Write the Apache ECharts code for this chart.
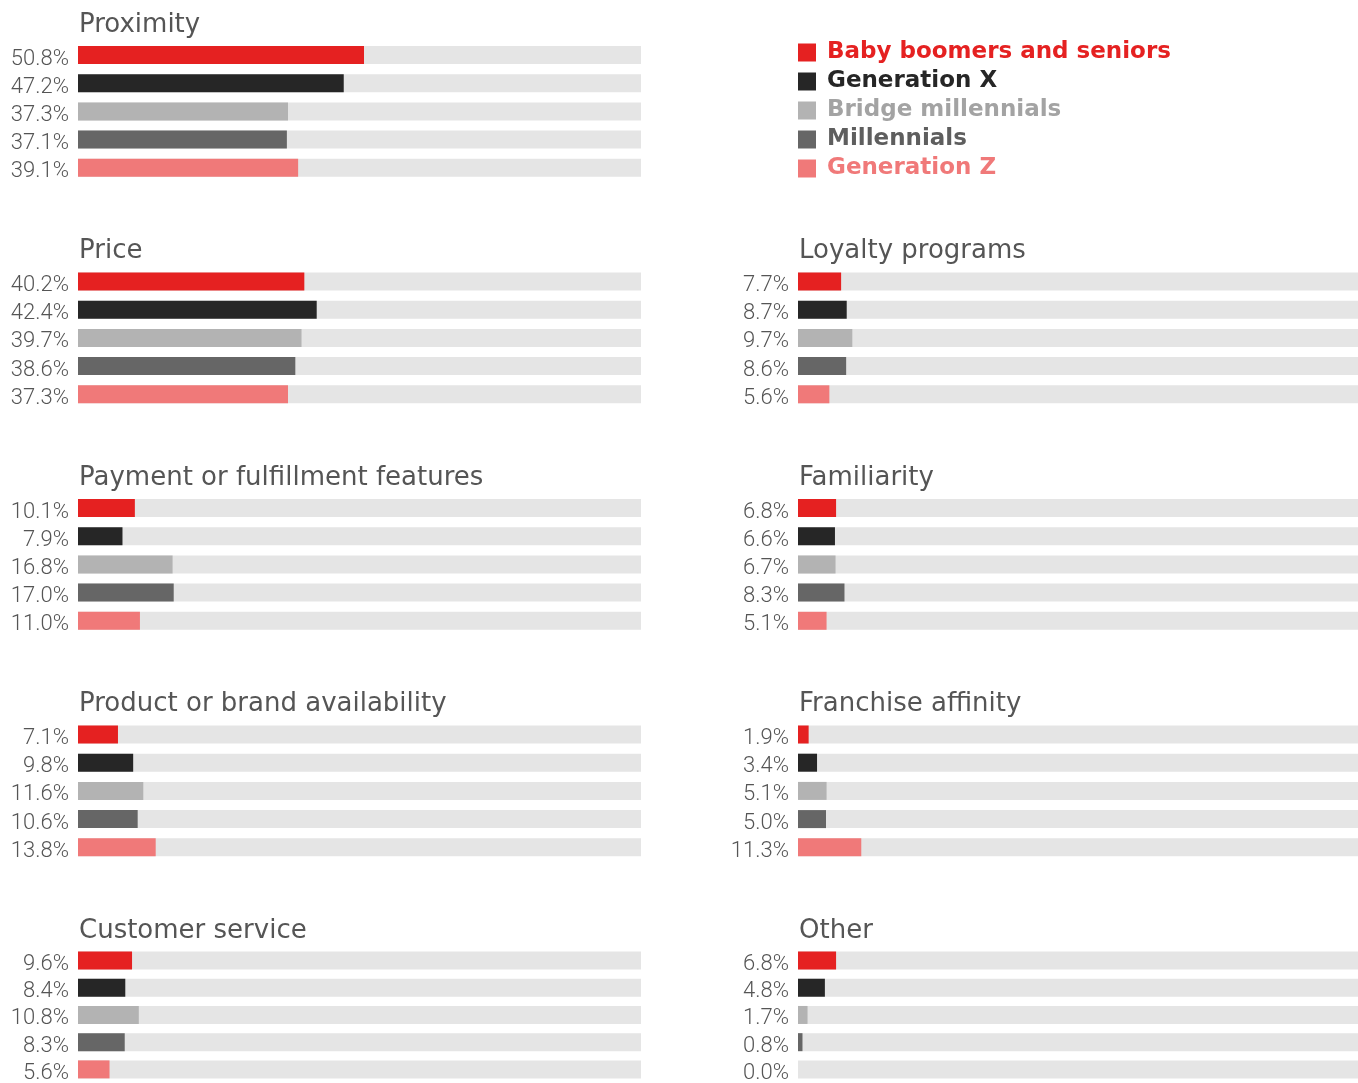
<!DOCTYPE html>
<html>
<head>
<meta charset="utf-8">
<style>
html, body {
  margin: 0;
  padding: 0;
  background-color: #FFF;
}
#chart {
  width: 1358px;
  height: 1083px;
}
</style>
<script src="https://cdn.jsdelivr.net/npm/echarts@6/dist/echarts.min.js"></script>
</head>
<body>
<div id="chart"></div>
<script>
const generations = ['Baby boomers and seniors', 'Generation X', 'Bridge millennials', 'Millennials', 'Generation Z']
const colors = ['#E52121', '#262626', '#B3B3B3', '#666666', '#F07979']
const legendTextColors = ['#E52121', '#262626', '#A3A3A3', '#5E5E5E', '#F07979']

const factors = ['Proximity', 'Price', 'Payment or fulfillment features', 'Product or brand availability', 'Customer service',
  'Loyalty programs', 'Familiarity', 'Franchise affinity', 'Other']

const proximity = [50.8, 47.2, 37.3, 37.1, 39.1]
const price = [40.2, 42.4, 39.7, 38.6, 37.3]
const payment = [10.1, 7.9, 16.8, 17.0, 11.0]
const availability = [7.1, 9.8, 11.6, 10.6, 13.8]
const customerService = [9.6, 8.4, 10.8, 8.3, 5.6]
const loyalty = [7.7, 8.7, 9.7, 8.6, 5.6]
const familiarity = [6.8, 6.6, 6.7, 8.3, 5.1]
const franchise = [1.9, 3.4, 5.1, 5.0, 11.3]
const other = [6.8, 4.8, 1.7, 0.8, 0.0]

const values = [proximity, price, payment, availability, customerService, loyalty, familiarity, franchise, other]

// panel slots: [column, row]
const slots = [[0, 0], [0, 1], [0, 2], [0, 3], [0, 4], [1, 1], [1, 2], [1, 3], [1, 4]]

const colLeft = [78, 798]
const colWidth = [563, 560]
const rowCenter = r => 55 + r * 226.5

const grids = []
const xAxes = []
const yAxes = []
const titles = []
const series = []

factors.forEach((name, p) => {
  const [c, r] = slots[p]
  grids.push({ left: colLeft[c], width: colWidth[c], top: rowCenter(r) - 14.1, height: 141 })
  xAxes.push({ gridIndex: p, type: 'value', min: 0, max: 100, show: false })
  yAxes.push({ gridIndex: p, type: 'category', data: generations, inverse: true, show: false })
  titles.push({
    text: name,
    left: colLeft[c] - 4,
    top: rowCenter(r) - 48,
    textStyle: { fontFamily: 'DejaVu Sans', fontWeight: 400, fontSize: 26, color: '#555555' }
  })
  generations.forEach((g, i) => {
    series.push({
      name: g,
      type: 'bar',
      xAxisIndex: p,
      yAxisIndex: p,
      barWidth: 18,
      barGap: '-100%',
      showBackground: true,
      backgroundStyle: { color: '#E5E5E5' },
      itemStyle: { color: colors[i] },
      label: {
        show: true,
        position: 'left',
        distance: 9,
        offset: [0, 4],
        fontFamily: 'Roboto',
        fontWeight: 300,
        fontSize: 22,
        color: '#555555',
        formatter: d => d.value[0].toFixed(1) + '%'
      },
      silent: true,
      animation: false,
      data: [[values[p][i], i]]
    })
  })
})

const chart = echarts.init(document.getElementById('chart'))
chart.setOption({
  animation: false,
  title: titles,
  legend: {
    orient: 'vertical',
    left: 793,
    top: 35,
    icon: 'rect',
    itemWidth: 18,
    itemHeight: 18,
    itemGap: 4,
    selectedMode: false,
    data: generations.map((g, i) => ({
      name: g,
      itemStyle: { color: colors[i] },
      textStyle: { color: legendTextColors[i] }
    })),
    textStyle: { fontFamily: 'DejaVu Sans', fontWeight: 'bold', fontSize: 23, lineHeight: 25, padding: [0, 0, 0, 6] }
  },
  grid: grids,
  xAxis: xAxes,
  yAxis: yAxes,
  series
})
</script>
</body>
</html>
